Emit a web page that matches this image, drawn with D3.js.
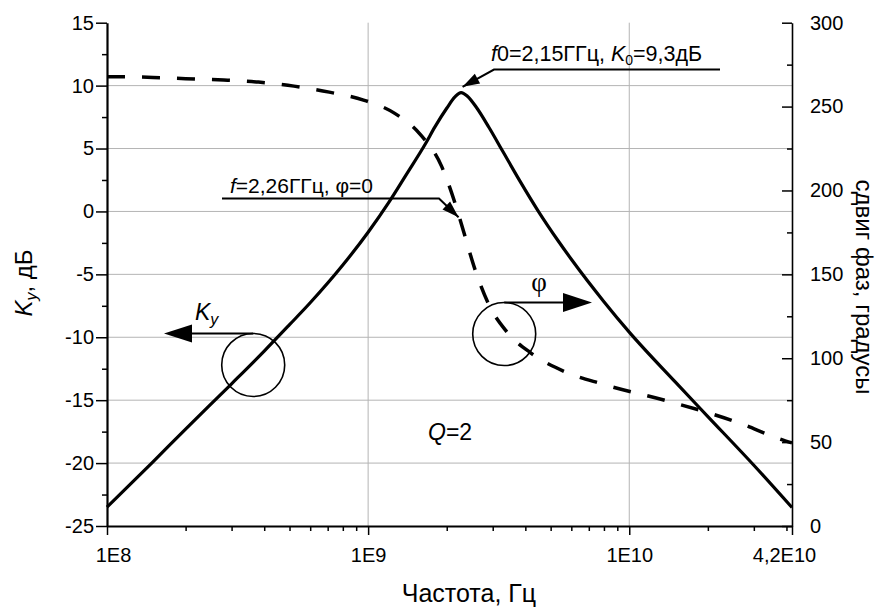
<!DOCTYPE html>
<html>
<head>
<meta charset="utf-8">
<script src="https://cdn.jsdelivr.net/npm/d3@7"></script>
<style>
  body { margin: 0; background: #fff; }
  text { font-family: "Liberation Sans", Arial, sans-serif; fill: #000; }
  .grid line { stroke: #b4b4b4; stroke-width: 1; }
</style>
</head>
<body>
<div id="chart"></div>
<script>
// gain curve K_y, dB (left axis)
const freqK = [1e8, 1.5e8, 2e8, 3e8, 4e8, 5e8, 6e8, 8e8, 1e9, 1.2e9, 1.4e9, 1.66e9, 1.8e9, 2e9,
  2.15e9, 2.27e9, 2.4e9, 2.6e9, 2.9e9, 3.29e9, 3.8e9, 4.5e9, 5.34e9, 6e9, 8e9, 1e10, 1.5e10, 2e10, 3e10, 4.2e10];
const gainK = [-23.5, -19.9, -17.3, -13.7, -11.1, -9.0, -7.26, -4.26, -1.65, 0.72, 2.93, 5.4, 6.7, 8.2,
  9.1, 9.45, 9.16, 8.26, 6.69, 4.72, 2.47, -0.03, -2.33, -3.8, -7.17, -9.59, -13.55, -16.3, -20.17, -23.53];

// phase shift, degrees (right axis)
const freqPhi = [1e8, 1.5e8, 2e8, 2.8e8, 3.8e8, 5.2e8, 7.1e8, 9.6e8, 1.26e9, 1.58e9, 1.91e9, 2.14e9,
  2.33e9, 2.57e9, 2.88e9, 3.38e9, 4.2e9, 5.7e9, 7.9e9, 1.44e10, 2.7e10, 3.6e10, 4.2e10];
const phase = [267.8, 267.4, 266.6, 265.8, 264.6, 262.2, 258.6, 253.9, 246.1, 233.6, 214.5, 193.6,
  174.6, 152.6, 132.9, 116.2, 103.1, 91.8, 84.6, 74, 60.8, 53, 49.5];

const leftTicks = [-25, -20, -15, -10, -5, 0, 5, 10, 15];
const rightTicks = [0, 50, 100, 150, 200, 250, 300];
const xTicks = [1e8, 1e9, 1e10, 4.2e10];
const xTickLabels = ["1E8", "1E9", "1E10", "4,2E10"];

const W = 880, H = 607;
const plotL = 107, plotR = 792, plotT = 22.7, plotB = 526;

const svg = d3.select("#chart").append("svg")
  .attr("width", W).attr("height", H);

const x = d3.scaleLog().domain([1e8, 4.2e10]).range([plotL, plotR]);
const yL = d3.scaleLinear().domain([-25, 15]).range([plotB, plotT]);
const yR = d3.scaleLinear().domain([0, 300]).range([plotB, plotT]);

// grid
const grid = svg.append("g").attr("class", "grid");
grid.selectAll(".gh").data(leftTicks.filter(d => d > -25 && d < 15))
  .enter().append("line")
  .attr("x1", plotL).attr("x2", plotR)
  .attr("y1", d => yL(d)).attr("y2", d => yL(d));
grid.selectAll(".gv").data([1e9, 1e10])
  .enter().append("line")
  .attr("x1", d => x(d)).attr("x2", d => x(d))
  .attr("y1", plotT).attr("y2", plotB);

// curves
const lineK = d3.line()
  .x((d, i) => x(freqK[i])).y(d => yL(d))
  .curve(d3.curveMonotoneX);
svg.append("path").datum(gainK)
  .attr("d", lineK)
  .attr("fill", "none").attr("stroke", "#000").attr("stroke-width", 3.2);

const linePhi = d3.line()
  .x((d, i) => x(freqPhi[i])).y(d => yR(d))
  .curve(d3.curveMonotoneX);
svg.append("path").datum(phase)
  .attr("d", linePhi)
  .attr("fill", "none").attr("stroke", "#000").attr("stroke-width", 3.5)
  .attr("stroke-dasharray", "18,17");

// axes
const styleAxis = (g, w) => {
  g.select(".domain").attr("stroke-width", w);
  g.selectAll(".tick line").attr("stroke-width", 1.5);
  g.selectAll("text").attr("font-size", 20).attr("font-family", null);
};

const minorL = d3.range(-22.5, 15, 5);
svg.append("g").attr("transform", "translate(" + plotL + ",0)")
  .call(d3.axisLeft(yL).tickValues(minorL).tickSize(5).tickSizeOuter(0).tickFormat(""))
  .call(g => g.select(".domain").remove())
  .selectAll("line").attr("stroke-width", 1.5);
svg.append("g").attr("transform", "translate(" + plotL + ",0)")
  .call(d3.axisLeft(yL).tickValues(leftTicks).tickSize(11).tickPadding(2).tickSizeOuter(0)
    .tickFormat(d => String(d)))
  .call(g => styleAxis(g, 2.2));

const minorR = d3.range(25, 300, 50);
svg.append("g").attr("transform", "translate(" + plotR + ",0)")
  .call(d3.axisRight(yR).tickValues(minorR).tickSize(-5).tickSizeOuter(0).tickFormat(""))
  .call(g => g.select(".domain").remove())
  .selectAll("line").attr("stroke-width", 1.5);
svg.append("g").attr("transform", "translate(" + plotR + ",0)")
  .call(d3.axisRight(yR).tickValues(rightTicks).tickSize(-10).tickPadding(18).tickSizeOuter(0)
    .tickFormat(d => String(d)))
  .call(g => styleAxis(g, 1.6));

const minorX = [];
[1e8, 1e9, 1e10].forEach(dec => {
  for (let k = 2; k <= 9; k++) if (dec * k < 4.2e10) minorX.push(dec * k);
});
svg.append("g").attr("transform", "translate(0," + plotB + ")")
  .call(d3.axisBottom(x).tickValues(minorX).tickSize(5).tickSizeOuter(0).tickFormat(""))
  .call(g => g.select(".domain").remove())
  .selectAll("line").attr("stroke-width", 1.5);
const xAxisG = svg.append("g").attr("transform", "translate(0," + plotB + ")")
  .call(d3.axisBottom(x).tickValues(xTicks).tickSize(9).tickPadding(13).tickSizeOuter(0)
    .tickFormat((d, i) => xTickLabels[i]))
  .call(g => styleAxis(g, 2.2));
xAxisG.selectAll(".tick text").attr("dx", (d, i) => i === 0 ? 6 : (i === xTicks.length - 1 ? -8 : 0));

// axis titles
svg.append("text")
  .attr("x", 469).attr("y", 602)
  .attr("text-anchor", "middle").attr("font-size", 25)
  .text("Частота, Гц");

const tL = svg.append("text")
  .attr("transform", "translate(32,283) rotate(-90)")
  .attr("text-anchor", "middle").attr("font-size", 24);
tL.append("tspan").attr("font-style", "italic").text("K");
tL.append("tspan").attr("font-style", "italic").attr("font-size", 16).attr("dy", 5).text("y");
tL.append("tspan").attr("dy", -5).text(", дБ");

svg.append("text")
  .attr("transform", "translate(856,287) rotate(90)")
  .attr("text-anchor", "middle").attr("font-size", 24)
  .text("сдвиг фаз, градусы");

// arrowhead helper
const arrowHead = (tip, from, len, wid) => {
  const dx = tip[0] - from[0], dy = tip[1] - from[1];
  const l = Math.hypot(dx, dy), ux = dx / l, uy = dy / l;
  const bx = tip[0] - ux * len, by = tip[1] - uy * len;
  const px = -uy * wid / 2, py = ux * wid / 2;
  svg.append("path")
    .attr("d", `M${tip[0]},${tip[1]}L${bx + px},${by + py}L${bx - px},${by - py}Z`)
    .attr("fill", "#000");
};

// annotation: f0 = 2,15 GHz
const tip1 = [x(2.3e9), yL(9.9)];
const a1 = svg.append("text").attr("x", 491).attr("y", 61).attr("font-size", 21.5);
a1.append("tspan").attr("font-style", "italic").text("f");
a1.append("tspan").text("0=2,15ГГц, ");
a1.append("tspan").attr("font-style", "italic").text("K");
a1.append("tspan").attr("font-size", 14).attr("dy", 4).text("0");
a1.append("tspan").attr("dy", -4).text("=9,3дБ");
svg.append("path")
  .attr("d", `M720,69.5L494,69.5L${tip1[0]},${tip1[1]}`)
  .attr("fill", "none").attr("stroke", "#000").attr("stroke-width", 2);
arrowHead(tip1, [494, 69.5], 17, 11);

// annotation: f = 2,26 GHz, phi = 0
const tip2 = [x(2.22e9), yR(184)];
const a2 = svg.append("text").attr("x", 230).attr("y", 193).attr("font-size", 21);
a2.append("tspan").attr("font-style", "italic").text("f");
a2.append("tspan").text("=2,26ГГц, φ=0");
svg.append("path")
  .attr("d", `M222,198.5L439,198.5L${tip2[0]},${tip2[1]}`)
  .attr("fill", "none").attr("stroke", "#000").attr("stroke-width", 2);
arrowHead(tip2, [439, 198.5], 17, 11);

// curve markers: circle + arrow to its axis
const cK = [x(3.63e8), yL(-12.2)], r = 31.5;
svg.append("circle").attr("cx", cK[0]).attr("cy", cK[1]).attr("r", r)
  .attr("fill", "none").attr("stroke", "#000").attr("stroke-width", 1.6);
svg.append("line").attr("x1", cK[0]).attr("x2", 185).attr("y1", cK[1] - r).attr("y2", cK[1] - r)
  .attr("stroke", "#000").attr("stroke-width", 2);
arrowHead([164, cK[1] - r], [cK[0], cK[1] - r], 28, 18);
const lK = svg.append("text").attr("x", 195).attr("y", 320).attr("font-size", 23);
lK.append("tspan").attr("font-style", "italic").text("K");
lK.append("tspan").attr("font-style", "italic").attr("font-size", 16).attr("dy", 5).text("y");

const cP = [x(3.32e9), yR(114.4)];
svg.append("circle").attr("cx", cP[0]).attr("cy", cP[1]).attr("r", r)
  .attr("fill", "none").attr("stroke", "#000").attr("stroke-width", 1.6);
svg.append("line").attr("x1", cP[0]).attr("x2", 570).attr("y1", cP[1] - r).attr("y2", cP[1] - r)
  .attr("stroke", "#000").attr("stroke-width", 2);
arrowHead([592, cP[1] - r], [cP[0], cP[1] - r], 29, 19);
svg.append("text").attr("x", 539).attr("y", 291)
  .attr("text-anchor", "middle").attr("font-size", 27)
  .style("font-family", "'Liberation Serif', 'Times New Roman', serif")
  .text("φ");

// Q label
const q = svg.append("text").attr("x", 428).attr("y", 440).attr("font-size", 23);
q.append("tspan").attr("font-style", "italic").text("Q");
q.append("tspan").text("=2");
</script>
</body>
</html>
